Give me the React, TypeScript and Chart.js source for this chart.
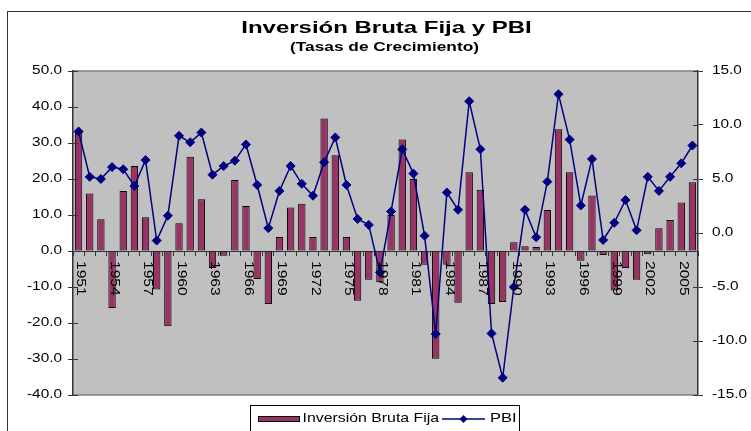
import React, { useEffect, useRef } from 'react';
import { Chart, registerables } from 'chart.js';

Chart.register(...registerables);

const years = [
  '1951','1952','1953','1954','1955','1956','1957','1958','1959','1960',
  '1961','1962','1963','1964','1965','1966','1967','1968','1969','1970',
  '1971','1972','1973','1974','1975','1976','1977','1978','1979','1980',
  '1981','1982','1983','1984','1985','1986','1987','1988','1989','1990',
  '1991','1992','1993','1994','1995','1996','1997','1998','1999','2000',
  '2001','2002','2003','2004','2005','2006',
];

const inversionBrutaFija = [
  33.6, 16.0, 8.8, -15.8, 16.7, 23.6, 9.4, -10.7, -20.9, 7.7,
  26.2, 14.4, -4.7, -1.3, 19.7, 12.5, -7.8, -14.7, 3.9, 12.1,
  13.1, 3.9, 36.8, 26.6, 3.9, -13.8, -8.0, -8.7, 10.0, 31.0,
  20.0, -3.8, -29.9, -3.8, -14.4, 21.9, 17.0, -14.7, -14.2, 2.4,
  1.3, 1.1, 11.4, 33.8, 21.9, -2.7, 15.4, -1.1, -11.0, -4.7,
  -8.0, -0.9, 6.3, 8.6, 13.5, 19.1,
];

const pbi = [
  9.4, 5.2, 5.0, 6.1, 5.9, 4.35, 6.75, -0.7, 1.6, 9.0,
  8.4, 9.3, 5.4, 6.2, 6.7, 8.2, 4.45, 0.45, 3.9, 6.2,
  4.55, 3.45, 6.55, 8.85, 4.45, 1.3, 0.75, -3.65, 2.0, 7.75,
  5.5, -0.25, -9.35, 3.75, 2.15, 12.2, 7.75, -9.3, -13.4, -5.0,
  2.15, -0.4, 4.75, 12.85, 8.65, 2.55, 6.85, -0.65, 0.95, 3.05,
  0.25, 5.2, 3.9, 5.2, 6.45, 8.1,
];

const TITLE = 'Inversión Bruta Fija y PBI';
const SUBTITLE = '(Tasas de Crecimiento)';
const LEGEND_BAR = 'Inversión Bruta Fija';
const LEGEND_LINE = 'PBI';
const LABEL_EVERY = 3;

const FAMILY = "'Liberation Sans', Arial, sans-serif";
const BAR_COLOR = '#993366';
const LINE_COLOR = '#000080';

function sText(
  ctx: CanvasRenderingContext2D,
  text: string,
  x: number,
  y: number,
  size: number,
  bold: boolean,
  sx: number,
  align: CanvasTextAlign,
  rot = 0,
) {
  ctx.save();
  ctx.translate(x, y);
  if (rot) ctx.rotate(rot);
  ctx.scale(sx, 1);
  ctx.font = `${bold ? 'bold ' : ''}${size}px ${FAMILY}`;
  ctx.fillStyle = '#000';
  ctx.textAlign = align;
  ctx.textBaseline = 'middle';
  ctx.fillText(text, 0, 0);
  ctx.restore();
}

const decorPlugin = {
  id: 'decor',
  beforeDraw(chart: any) {
    const { ctx, chartArea: a } = chart;
    ctx.save();
    ctx.fillStyle = '#C0C0C0';
    ctx.fillRect(a.left, a.top, a.right - a.left, a.bottom - a.top);
    ctx.strokeStyle = '#808080';
    ctx.lineWidth = 1.5;
    ctx.beginPath();
    ctx.moveTo(a.left, a.top);
    ctx.lineTo(a.right, a.top);
    ctx.moveTo(a.left, a.bottom);
    ctx.lineTo(a.right, a.bottom);
    ctx.stroke();
    ctx.restore();
  },
  afterDraw(chart: any) {
    const { ctx, chartArea: a } = chart;
    const cx = (a.left + a.right) / 2;
    // titles
    sText(ctx, TITLE, cx + 1, 28.5, 17, true, 1.41, 'center');
    sText(ctx, SUBTITLE, cx - 1, 47, 13, true, 1.33, 'center');

    // y axis labels + inner tick halves
    const yL = chart.scales.y;
    const yR = chart.scales.y1;
    ctx.save();
    ctx.strokeStyle = '#333';
    ctx.lineWidth = 1;
    yL.ticks.forEach((t: any) => {
      const py = yL.getPixelForValue(t.value);
      sText(ctx, t.value.toFixed(1), a.left - 11, py, 12, false, 1.28, 'right');
      ctx.beginPath();
      ctx.moveTo(a.left, Math.round(py) + 0.5);
      ctx.lineTo(a.left + 5, Math.round(py) + 0.5);
      ctx.stroke();
    });
    yR.ticks.forEach((t: any) => {
      const py = yR.getPixelForValue(t.value);
      sText(ctx, t.value.toFixed(1), a.right + 14, py, 12, false, 1.28, 'left');
      ctx.beginPath();
      ctx.moveTo(a.right, Math.round(py) + 0.5);
      ctx.lineTo(a.right - 5, Math.round(py) + 0.5);
      ctx.stroke();
    });
    ctx.restore();

    // x labels, rotated, at the zero line
    const xs = chart.scales.x;
    const zeroY = yL.getPixelForValue(0);
    years.forEach((yr, i) => {
      if (i % LABEL_EVERY === 0) {
        sText(ctx, yr, xs.getPixelForValue(i) + 2, zeroY + 10, 12, false, 1.3, 'left', Math.PI / 2);
      }
    });

    // legend
    ctx.save();
    ctx.strokeStyle = '#000';
    ctx.lineWidth = 1;
    ctx.strokeRect(250.5, 405.5, 269, 40);
    ctx.fillStyle = BAR_COLOR;
    ctx.fillRect(258, 416, 42, 6);
    ctx.strokeRect(258.5, 416.5, 41, 5);
    ctx.strokeStyle = LINE_COLOR;
    ctx.lineWidth = 1.5;
    ctx.beginPath();
    ctx.moveTo(442, 419);
    ctx.lineTo(485, 419);
    ctx.stroke();
    ctx.fillStyle = LINE_COLOR;
    ctx.beginPath();
    ctx.moveTo(463.5, 415);
    ctx.lineTo(467.5, 419);
    ctx.lineTo(463.5, 423);
    ctx.lineTo(459.5, 419);
    ctx.closePath();
    ctx.fill();
    ctx.restore();
    sText(ctx, LEGEND_BAR, 302.5, 418.5, 13, false, 1.22, 'left');
    sText(ctx, LEGEND_LINE, 490, 418.5, 13, false, 1.27, 'left');
  },
};

export default function App() {
  const ref = useRef<HTMLCanvasElement | null>(null);

  useEffect(() => {
    if (!ref.current) return;
    const chart = new Chart(ref.current, {
      type: 'bar',
      data: {
        labels: years,
        datasets: [
          {
            type: 'line',
            label: LEGEND_LINE,
            data: pbi,
            yAxisID: 'y1',
            borderColor: LINE_COLOR,
            borderWidth: 1.5,
            pointStyle: 'rectRot',
            pointRadius: 4.5,
            pointBackgroundColor: LINE_COLOR,
            pointBorderColor: LINE_COLOR,
            pointBorderWidth: 1,
            tension: 0,
            fill: false,
            order: 0,
          } as any,
          {
            type: 'bar',
            label: LEGEND_BAR,
            data: inversionBrutaFija,
            yAxisID: 'y',
            backgroundColor: BAR_COLOR,
            borderColor: '#000',
            borderWidth: 1,
            borderSkipped: false,
            barPercentage: 0.66,
            categoryPercentage: 1.0,
            order: 1,
          } as any,
        ],
      },
      options: {
        animation: false,
        responsive: false,
        devicePixelRatio: 1,
        layout: { padding: { left: 22, right: 0, top: 71, bottom: 36 } },
        plugins: {
          legend: { display: false },
          title: { display: false },
          tooltip: { enabled: false },
        },
        scales: {
          x: {
            type: 'category',
            position: { y: 0 } as any,
            offset: true,
            grid: {
              display: true,
              drawOnChartArea: false,
              offset: true,
              tickLength: 4,
              color: '#333',
            },
            border: { display: true, color: '#333', width: 1 },
            ticks: { display: false },
          },
          y: {
            position: 'left',
            min: -40,
            max: 50,
            ticks: { display: false, stepSize: 10 },
            grid: { display: true, drawOnChartArea: false, tickLength: 5, color: '#333' },
            border: { display: true, color: '#333', width: 1.5 },
            afterFit: (s: any) => { s.width = 51; },
          },
          y1: {
            position: 'right',
            min: -15,
            max: 15,
            ticks: { display: false, stepSize: 5 },
            grid: { display: true, drawOnChartArea: false, tickLength: 5, color: '#333' },
            border: { display: true, color: '#333', width: 1.5 },
            afterFit: (s: any) => { s.width = 53; },
          },
        },
      },
      plugins: [decorPlugin],
    });
    return () => chart.destroy();
  }, []);

  return (
    <div
      style={{
        position: 'absolute',
        left: 0,
        top: 0,
        width: 751,
        height: 431,
        overflow: 'hidden',
        background: '#fff',
      }}
    >
      <div
        style={{
          position: 'absolute',
          left: 7,
          top: 11,
          width: 800,
          height: 500,
          border: '1px solid #333',
          boxSizing: 'border-box',
        }}
      />
      <canvas
        ref={ref}
        width={751}
        height={431}
        style={{ position: 'absolute', left: 0, top: 0, width: 751, height: 431 }}
      />
    </div>
  );
}
